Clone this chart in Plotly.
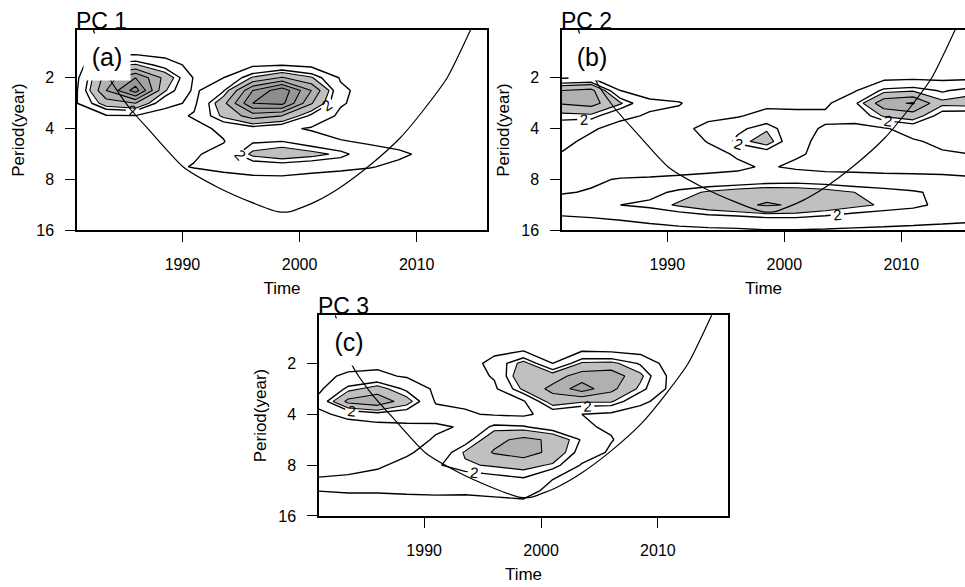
import math
import plotly.graph_objects as go

# ---------------- data ----------------
YEARS = [1981.0, 1983.5, 1986.0, 1988.5, 1991.0, 1993.5, 1996.0, 1998.5,
         2001.0, 2003.5, 2006.0, 2008.5, 2011.0, 2013.5, 2016.0]
PERIODS = [1.0, 1.19, 1.41, 1.68, 2.0, 2.38, 2.83, 3.36, 4.0, 4.76, 5.66,
           6.73, 8.0, 9.51, 11.31, 13.45, 16.0]

# wavelet power (rows = PERIODS, columns = YEARS)
POWER_PC1 = [
    [0.2, 0.3, 0.3, 0.3, 0.3, 0.3, 0.3, 0.3, 0.3, 0.3, 0.2, 0.2, 0.2, 0.2, 0.2],
    [0.3, 0.4, 0.4, 0.35, 0.3, 0.3, 0.35, 0.35, 0.3, 0.3, 0.25, 0.2, 0.2, 0.2, 0.2],
    [0.4, 0.6, 0.6, 0.5, 0.4, 0.4, 0.5, 0.5, 0.45, 0.35, 0.3, 0.25, 0.2, 0.2, 0.2],
    [0.6, 2.2, 2.6, 1.6, 0.6, 0.6, 0.8, 0.95, 0.7, 0.5, 0.4, 0.3, 0.25, 0.2, 0.2],
    [0.8, 4.0, 5.5, 3.2, 0.9, 1.0, 2.6, 3.6, 2.6, 0.9, 0.5, 0.35, 0.3, 0.25, 0.2],
    [0.95, 4.5, 7.0, 2.6, 0.8, 1.9, 5.5, 7.2, 4.5, 1.2, 0.6, 0.4, 0.3, 0.25, 0.2],
    [0.98, 3.0, 3.5, 1.3, 0.8, 3.2, 6.5, 6.8, 3.6, 1.1, 0.6, 0.4, 0.3, 0.25, 0.2],
    [0.5, 0.9, 0.95, 0.6, 1.1, 2.7, 4.0, 3.5, 1.8, 0.8, 0.5, 0.4, 0.3, 0.25, 0.2],
    [0.4, 0.5, 0.5, 0.4, 0.7, 1.2, 1.6, 1.2, 0.9, 0.7, 0.5, 0.4, 0.3, 0.25, 0.2],
    [0.3, 0.35, 0.35, 0.4, 0.5, 0.95, 1.9, 2.0, 1.5, 1.05, 0.9, 0.7, 0.4, 0.3, 0.2],
    [0.3, 0.3, 0.35, 0.5, 0.9, 1.3, 2.7, 3.1, 2.8, 2.3, 1.3, 1.15, 0.8, 0.4, 0.25],
    [0.3, 0.3, 0.4, 0.8, 1.05, 1.3, 1.4, 1.5, 1.3, 1.2, 1.05, 0.8, 0.5, 0.3, 0.2],
    [0.25, 0.25, 0.3, 0.4, 0.5, 0.6, 0.8, 0.8, 0.7, 0.6, 0.5, 0.45, 0.35, 0.25, 0.2],
    [0.2, 0.2, 0.25, 0.3, 0.3, 0.35, 0.4, 0.45, 0.4, 0.35, 0.3, 0.3, 0.25, 0.2, 0.2],
    [0.2, 0.2, 0.2, 0.25, 0.25, 0.3, 0.3, 0.35, 0.3, 0.3, 0.25, 0.25, 0.2, 0.2, 0.15],
    [0.15, 0.15, 0.2, 0.2, 0.2, 0.25, 0.25, 0.25, 0.25, 0.25, 0.2, 0.2, 0.15, 0.15, 0.1],
    [0.1, 0.1, 0.15, 0.15, 0.15, 0.2, 0.2, 0.2, 0.2, 0.2, 0.15, 0.15, 0.1, 0.1, 0.1],
]

POWER_PC2 = [
    [0.2, 0.2, 0.2, 0.2, 0.2, 0.2, 0.2, 0.2, 0.2, 0.2, 0.2, 0.2, 0.2, 0.2, 0.2],
    [0.3, 0.3, 0.3, 0.25, 0.25, 0.25, 0.25, 0.25, 0.25, 0.3, 0.3, 0.3, 0.3, 0.3, 0.3],
    [0.4, 0.4, 0.35, 0.3, 0.3, 0.3, 0.3, 0.3, 0.3, 0.35, 0.35, 0.4, 0.4, 0.4, 0.4],
    [0.5, 0.55, 0.5, 0.4, 0.35, 0.35, 0.35, 0.35, 0.35, 0.4, 0.5, 0.5, 0.55, 0.55, 0.55],
    [0.9, 1.0, 0.6, 0.5, 0.4, 0.4, 0.4, 0.4, 0.4, 0.5, 0.6, 0.7, 0.8, 0.75, 0.8],
    [3.5, 3.8, 1.0, 0.6, 0.6, 0.5, 0.5, 0.5, 0.5, 0.6, 0.9, 2.2, 2.4, 1.9, 2.3],
    [3.6, 3.9, 2.6, 1.2, 1.05, 0.6, 0.6, 0.7, 0.7, 0.8, 1.8, 4.2, 4.6, 2.7, 2.8],
    [2.2, 2.3, 1.2, 0.9, 0.8, 0.75, 0.9, 1.4, 1.3, 1.2, 1.3, 2.6, 3.0, 1.6, 1.5],
    [1.6, 1.1, 0.7, 0.5, 0.7, 1.3, 1.8, 2.4, 1.3, 0.9, 0.8, 0.9, 1.4, 1.3, 1.4],
    [1.2, 0.8, 0.5, 0.4, 0.5, 1.05, 2.2, 2.9, 1.2, 0.8, 0.6, 0.6, 0.9, 1.2, 1.3],
    [0.95, 0.6, 0.5, 0.4, 0.5, 0.7, 1.1, 1.5, 1.1, 0.8, 0.6, 0.6, 0.7, 0.9, 1.0],
    [0.6, 0.6, 0.6, 0.6, 0.7, 0.8, 0.85, 1.1, 0.85, 0.7, 0.7, 0.7, 0.7, 0.7, 0.7],
    [0.7, 0.9, 1.05, 1.1, 1.15, 1.2, 1.3, 1.5, 1.6, 1.5, 1.4, 1.3, 1.25, 1.2, 1.1],
    [0.95, 1.05, 1.4, 1.7, 2.2, 2.6, 2.9, 3.1, 3.0, 2.8, 2.5, 2.3, 2.1, 1.8, 1.6],
    [1.3, 1.4, 2.0, 2.2, 2.6, 3.0, 3.3, 3.6, 3.4, 3.1, 2.7, 2.4, 2.2, 1.8, 1.7],
    [0.95, 1.0, 1.1, 1.3, 1.5, 1.7, 1.8, 2.0, 2.0, 1.8, 1.6, 1.5, 1.4, 1.3, 1.2],
    [0.5, 0.55, 0.6, 0.65, 0.75, 0.8, 0.85, 0.95, 0.95, 0.9, 0.85, 0.8, 0.75, 0.7, 0.65],
]

POWER_PC3 = [
    [0.2, 0.2, 0.2, 0.2, 0.2, 0.2, 0.2, 0.2, 0.2, 0.2, 0.2, 0.2, 0.2, 0.2, 0.2],
    [0.3, 0.3, 0.3, 0.3, 0.25, 0.25, 0.3, 0.3, 0.3, 0.3, 0.3, 0.25, 0.2, 0.2, 0.2],
    [0.35, 0.4, 0.4, 0.35, 0.3, 0.3, 0.4, 0.5, 0.5, 0.4, 0.35, 0.3, 0.25, 0.2, 0.2],
    [0.45, 0.5, 0.5, 0.45, 0.35, 0.35, 0.7, 0.95, 0.8, 0.9, 0.8, 0.6, 0.35, 0.3, 0.25],
    [0.6, 0.6, 0.8, 0.6, 0.4, 0.4, 1.4, 2.8, 1.0, 2.6, 2.7, 1.9, 0.5, 0.35, 0.3],
    [0.7, 1.2, 1.2, 0.9, 0.6, 0.5, 1.1, 3.3, 3.0, 4.0, 4.2, 2.7, 0.8, 0.4, 0.3],
    [0.8, 2.2, 2.9, 1.8, 0.8, 0.6, 0.8, 2.7, 3.8, 5.0, 3.8, 2.3, 0.8, 0.4, 0.3],
    [1.3, 3.8, 4.3, 2.9, 0.9, 0.85, 0.7, 0.9, 3.0, 2.6, 2.6, 1.2, 0.6, 0.4, 0.3],
    [0.8, 1.3, 1.7, 1.5, 1.4, 1.1, 0.9, 0.8, 1.4, 1.0, 0.8, 0.6, 0.45, 0.35, 0.3],
    [0.6, 0.55, 0.6, 0.8, 0.85, 1.1, 2.2, 2.1, 1.5, 1.1, 0.9, 0.5, 0.4, 0.3, 0.25],
    [0.5, 0.5, 0.5, 0.6, 1.1, 1.6, 3.2, 3.8, 3.3, 1.9, 1.05, 0.5, 0.4, 0.3, 0.25],
    [0.5, 0.5, 0.6, 0.9, 1.3, 2.6, 3.6, 4.0, 3.2, 1.6, 0.85, 0.45, 0.35, 0.3, 0.25],
    [0.6, 0.7, 0.9, 1.2, 1.9, 2.4, 2.6, 2.8, 2.4, 0.9, 0.6, 0.4, 0.3, 0.25, 0.2],
    [1.02, 1.1, 1.2, 1.3, 1.5, 1.6, 1.8, 2.0, 1.05, 0.6, 0.45, 0.35, 0.3, 0.25, 0.2],
    [1.02, 1.1, 1.1, 1.15, 1.2, 1.2, 1.3, 1.4, 0.7, 0.45, 0.35, 0.3, 0.25, 0.2, 0.2],
    [0.6, 0.6, 0.6, 0.65, 0.65, 0.6, 0.7, 0.8, 0.5, 0.35, 0.3, 0.25, 0.2, 0.2, 0.15],
    [0.35, 0.35, 0.35, 0.4, 0.4, 0.4, 0.4, 0.45, 0.35, 0.3, 0.25, 0.2, 0.2, 0.2, 0.15],
]

# cone of influence
COI_YEAR = [1982.4, 1983.8, 1985.5, 1987.2, 1990.1, 1993.0, 1995.8, 1998.1,
            1999.2, 2001.5, 2003.5, 2006.0, 2008.6, 2010.7, 2012.6, 2014.6]
COI_PERIOD = [1.04, 2.03, 3.03, 4.11, 6.77, 8.88, 10.85, 12.38,
              12.38, 10.70, 8.88, 6.59, 4.53, 3.03, 2.0, 1.04]

TIME_TICKS = [1990, 2000, 2010]
PERIOD_TICKS = [2, 4, 8, 16]
PANEL_TITLES = ["PC 1", "PC 2", "PC 3"]
PANEL_TAGS = ["(a)", "(b)", "(c)"]
POWERS = [POWER_PC1, POWER_PC2, POWER_PC3]

# ---------------- layout ----------------
W, H = 965, 587
FONT = "Liberation Sans, Arial, Helvetica, sans-serif"
PANELS = [
    dict(l=77, t=30, r=487, b=234, xmax=2016.0, right_line=True),
    dict(l=562, t=30, r=965, b=234, xmax=2015.44, right_line=False),
    dict(l=319, t=320, r=728, b=524, xmax=2016.0, right_line=True),
]
SHADE = [[0.0, "#ffffff"], [0.2, "#c0c0c0"], [0.4, "#b0b0b0"],
         [0.6, "#a3a3a3"], [0.8, "#979797"], [1.0, "#8d8d8d"]]

fig = go.Figure()
annotations = []
layout = {}

for i, (z, box) in enumerate(zip(POWERS, PANELS), start=1):
    xa = "x" if i == 1 else f"x{i}"
    ya = "y" if i == 1 else f"y{i}"

    fig.add_trace(go.Contour(
        x=YEARS, y=PERIODS, z=z, xaxis=xa, yaxis=ya,
        contours=dict(start=2.5, end=6.5, size=1, coloring="fill"),
        colorscale=SHADE, showscale=False,
        line=dict(color="black", width=1.1, smoothing=0),
        hoverinfo="skip"))
    fig.add_trace(go.Contour(
        x=YEARS, y=PERIODS, z=z, xaxis=xa, yaxis=ya,
        contours=dict(start=1, end=1, size=1, coloring="none"),
        showscale=False,
        line=dict(color="black", width=1.4, smoothing=0),
        hoverinfo="skip"))
    fig.add_trace(go.Contour(
        x=YEARS, y=PERIODS, z=z, xaxis=xa, yaxis=ya,
        contours=dict(start=2, end=2, size=1, coloring="none",
                      showlabels=True,
                      labelfont=dict(size=15, color="black", family=FONT)),
        showscale=False,
        line=dict(color="black", width=1.4, smoothing=0),
        hoverinfo="skip"))
    fig.add_trace(go.Scatter(
        x=COI_YEAR, y=COI_PERIOD, xaxis=xa, yaxis=ya, mode="lines",
        line=dict(color="black", width=1.2, shape="spline", smoothing=0.6),
        hoverinfo="skip", showlegend=False))

    xkey = "xaxis" if i == 1 else f"xaxis{i}"
    ykey = "yaxis" if i == 1 else f"yaxis{i}"
    layout[xkey] = dict(
        domain=[box["l"] / W, box["r"] / W], range=[1981, box["xmax"]],
        anchor=ya, tickvals=TIME_TICKS, ticks="outside", ticklen=10,
        tickwidth=1.3, tickcolor="black", showline=True, linecolor="black",
        linewidth=1.5, mirror=True, showgrid=False, zeroline=False,
        ticklabelstandoff=9,
        tickfont=dict(size=16, color="black", family=FONT),
        title=dict(text="Time", font=dict(size=17, color="black", family=FONT),
                   standoff=10))
    layout[ykey] = dict(
        domain=[1 - box["b"] / H, 1 - box["t"] / H], type="log",
        range=[math.log10(16), math.log10(1.037)], anchor=xa,
        tickvals=PERIOD_TICKS, ticktext=[str(v) for v in PERIOD_TICKS],
        ticks="outside", ticklen=10, tickwidth=1.3, tickcolor="black",
        showline=True, linecolor="black", linewidth=1.5,
        mirror=box["right_line"], showgrid=False, zeroline=False,
        ticklabelstandoff=8,
        tickfont=dict(size=16, color="black", family=FONT),
        title=dict(text="Period(year)",
                   font=dict(size=17, color="black", family=FONT),
                   standoff=7))

    annotations.append(dict(
        xref=f"{xa} domain", yref=f"{ya} domain", x=0, y=1,
        xanchor="left", yanchor="bottom", xshift=-3, yshift=-6,
        text=PANEL_TITLES[i - 1], showarrow=False,
        font=dict(size=23, color="black", family=FONT)))
    annotations.append(dict(
        xref=f"{xa} domain", yref=f"{ya} domain", x=0, y=1,
        xanchor="left", yanchor="top", xshift=6, yshift=-3,
        width=46, height=46, bgcolor="white", borderpad=0,
        text=PANEL_TAGS[i - 1], showarrow=False,
        font=dict(size=25, color="black", family=FONT)))

fig.update_layout(
    width=W, height=H, margin=dict(l=0, r=0, t=0, b=0),
    paper_bgcolor="white", plot_bgcolor="white", showlegend=False,
    annotations=annotations, **layout)

fig.write_html("out.html", config={"displayModeBar": False})
